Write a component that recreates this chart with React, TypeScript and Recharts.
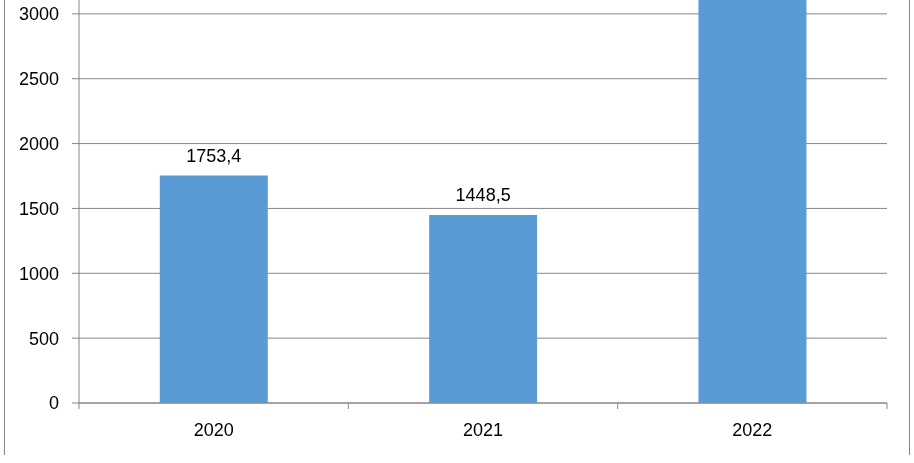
import { Bar, BarChart, CartesianGrid, LabelList, XAxis, YAxis } from "recharts";

const years = ["2020", "2021", "2022"];
const values = [1753.4, 1448.5, 3300];
const yTicks = [0, 500, 1000, 1500, 2000, 2500, 3000];

const data = years.map((year, i) => ({ year, value: values[i] }));

const grey = "#868686";
const fontFamily = "'Liberation Sans', Arial, sans-serif";

const W = 914;
const H = 523;
const margin = { top: 9, right: 27, left: 0, bottom: 0 };
const Y_AXIS_W = 79;
const band = (W - Y_AXIS_W - margin.right) / years.length;

function YearTick(props: any) {
  const { x, y, payload, index } = props;
  const axisY = y - 8;
  return (
    <g>
      <line x1={x - band / 2} x2={x - band / 2} y1={axisY} y2={axisY + 6} stroke={grey} />
      {index === years.length - 1 && (
        <line x1={x + band / 2} x2={x + band / 2} y1={axisY} y2={axisY + 6} stroke={grey} />
      )}
      <text x={x} y={axisY + 33} textAnchor="middle" fontFamily={fontFamily} fontSize={18} fill="#000">
        {payload.value}
      </text>
    </g>
  );
}

export default function App() {
  return (
    <>
      <div
        style={{
          position: "fixed",
          left: 4,
          top: 0,
          width: 906,
          height: 455,
          boxSizing: "border-box",
          borderLeft: `1px solid ${grey}`,
          borderRight: `1px solid ${grey}`,
        }}
      />
      <div style={{ position: "fixed", left: 0, top: -60 }}>
        <BarChart width={W} height={H} data={data} margin={margin} barCategoryGap="30%">
          <CartesianGrid vertical={false} stroke={grey} />
          <XAxis
            dataKey="year"
            height={60}
            axisLine={{ stroke: grey }}
            tickLine={false}
            tickSize={6}
            tickMargin={2}
            tick={<YearTick />}
            interval={0}
          />
          <YAxis
            width={Y_AXIS_W}
            domain={[0, 3500]}
            ticks={yTicks}
            interval={0}
            axisLine={{ stroke: grey }}
            tickLine={{ stroke: grey }}
            tickSize={7}
            tickMargin={13}
            tick={{ fontFamily, fontSize: 18, fill: "#000" }}
          />
          <Bar dataKey="value" fill="#5b9bd5" isAnimationActive={false}>
            <LabelList
              dataKey="value"
              position="top"
              offset={14}
              formatter={(v: any) => String(v).replace(".", ",")}
              style={{ fontFamily, fontSize: 18, fill: "#000" }}
            />
          </Bar>
        </BarChart>
      </div>
    </>
  );
}
